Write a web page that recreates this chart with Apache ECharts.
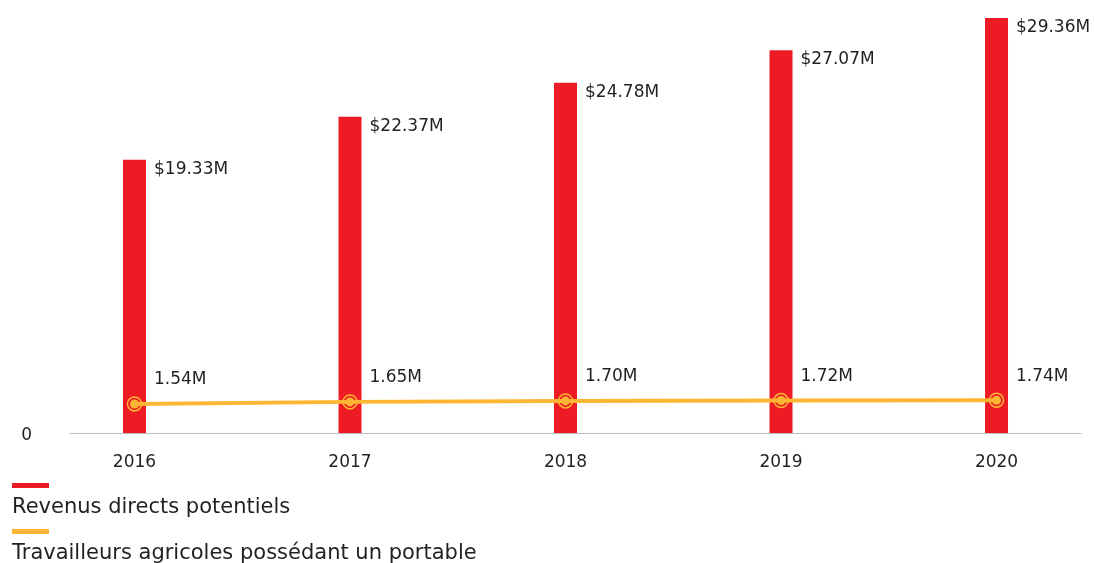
<!DOCTYPE html>
<html>
<head>
<meta charset="utf-8">
<script src="https://cdn.jsdelivr.net/npm/echarts@6/dist/echarts.min.js"></script>
<style>
  html, body { margin: 0; padding: 0; background: #fff; }
  #chart { width: 1094px; height: 563px; }
</style>
</head>
<body>
<div id="chart"></div>
<script>
// Yearly figures
const years = [2016, 2017, 2018, 2019, 2020];
const revenue = [19.33, 22.37, 24.78, 27.07, 29.36];      // millions of dollars
const phoneOwners = [1.54, 1.65, 1.70, 1.72, 1.74];       // millions of workers
const seriesNames = ['Revenus directs potentiels', 'Travailleurs agricoles possédant un portable'];

const RED = '#ED1C24';
const ORANGE = '#FDB633';
const TEXT = '#231F20';
const FONT = '"DejaVu Sans", sans-serif';

const pairs = vals => years.map((y, i) => [y, vals[i]]);

const chart = echarts.init(document.getElementById('chart'));

function iconLegend(name, top) {
  return {
    data: [name], left: 12, top: top, padding: 0, icon: 'rect',
    itemWidth: 37, itemHeight: 5, selectedMode: false,
    formatter: () => '', textStyle: { fontSize: 1 }
  };
}
function textLegend(name, top) {
  return {
    data: [name], left: 7, top: top, padding: 0, icon: 'rect',
    itemWidth: 0, itemHeight: 0, selectedMode: false,
    textStyle: { fontFamily: FONT, fontSize: 21, color: TEXT }
  };
}

chart.setOption({
  animation: false,
  textStyle: { fontFamily: FONT },
  legend: [
    iconLegend(seriesNames[0], 483),
    textLegend(seriesNames[0], 497),
    iconLegend(seriesNames[1], 529),
    textLegend(seriesNames[1], 543)
  ],
  grid: { left: 70, right: 13, top: 18, bottom: 130 },
  xAxis: {
    // years on a continuous scale so the bars sit slightly right of the axis start
    type: 'value', min: 2015.7007, max: 2020.392,
    axisLine: { show: true, lineStyle: { color: '#BDBDBD', width: 1 } },
    axisTick: { show: false }, splitLine: { show: false },
    axisLabel: {
      customValues: years, fontFamily: FONT, fontSize: 17, color: TEXT, margin: 21,
      formatter: v => String(v)
    }
  },
  yAxis: [
    {
      type: 'value', min: 0, max: 'dataMax', splitLine: { show: false },
      axisLine: { show: false }, axisTick: { show: false },
      axisLabel: {
        customValues: [0], fontFamily: FONT, fontSize: 17, color: TEXT, margin: 38,
        verticalAlign: 'top', padding: [-6, 0, 0, 0]
      }
    },
    { type: 'value', min: 0, max: 22, show: false, splitLine: { show: false } }
  ],
  series: [
    {
      name: seriesNames[0], type: 'bar', yAxisIndex: 0,
      data: pairs(revenue), barWidth: 23,
      itemStyle: { color: RED },
      label: {
        show: true, position: [31, 1], align: 'left', verticalAlign: 'top',
        fontFamily: FONT, fontSize: 17, color: TEXT,
        formatter: p => '$' + p.value[1].toFixed(2) + 'M'
      }
    },
    {
      name: seriesNames[1], type: 'line', yAxisIndex: 1,
      data: pairs(phoneOwners), symbol: 'circle', symbolSize: 9,
      lineStyle: { color: ORANGE, width: 4 },
      itemStyle: { color: ORANGE },
      z: 3,
      label: {
        show: true, position: [24, -28], align: 'left', verticalAlign: 'top',
        fontFamily: FONT, fontSize: 17, color: TEXT,
        formatter: p => p.value[1].toFixed(2) + 'M'
      }
    },
    {
      // outer ring around each point
      name: 'ring', type: 'line', yAxisIndex: 1,
      data: pairs(phoneOwners), symbol: 'circle', symbolSize: 14,
      lineStyle: { opacity: 0, width: 0 },
      itemStyle: { color: 'transparent', borderColor: ORANGE, borderWidth: 1.5 },
      z: 4, silent: true
    }
  ]
});
</script>
</body>
</html>
